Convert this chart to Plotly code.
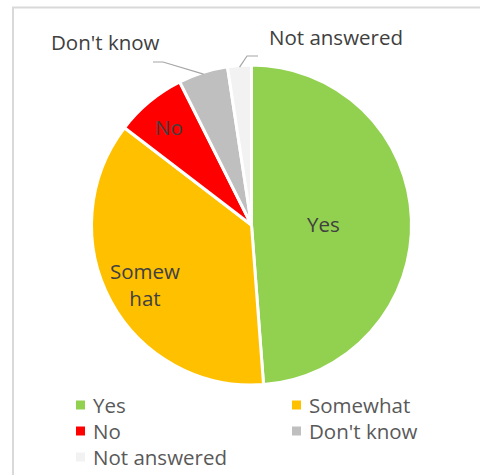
import math
import plotly.graph_objects as go

# Survey answers (share of responses, %)
categories = ["Yes", "Somewhat", "No", "Don't know", "Not answered"]
values = [48.8, 36.6, 7.2, 5.0, 2.4]
slice_labels = ["Yes", "Somew<br>hat", "No", "Don't know", "Not answered"]

colors = ["#92D050", "#FFC000", "#FF0000", "#BFBFBF", "#F2F2F2"]

W, H = 480, 475
FONT = "Open Sans"
FS = 20.5

# Pie placement in pixels
CX, CY, R = 251.5, 225.0, 160.0


def px(x):
    return x / W


def py(y):
    return 1 - y / H


fig = go.Figure(
    go.Pie(
        labels=categories,
        values=values,
        sort=False,
        direction="clockwise",
        rotation=0,
        marker=dict(colors=colors, line=dict(color="white", width=3)),
        textinfo="none",
        hoverinfo="label+percent",
        domain=dict(x=[px(CX - R), px(CX + R)], y=[py(CY + R), py(CY - R)]),
        showlegend=False,
    )
)

# Slice angles (degrees clockwise from 12 o'clock)
total = sum(values)
mids = []
acc = 0.0
for v in values:
    start = acc / total * 360
    acc += v
    end = acc / total * 360
    mids.append((start + end) / 2)


def polar(angle_deg, r):
    a = math.radians(angle_deg)
    return CX + r * math.sin(a), CY - r * math.cos(a)


annotations = []
shapes = []

# Labels drawn inside their slices (radial position as fraction of radius)
inside_r = {"Yes": 0.45, "Somewhat": 0.76, "No": 0.81}
for cat, lab, mid in zip(categories, slice_labels, mids):
    if cat in inside_r:
        x, y = polar(mid, inside_r[cat] * R)
        annotations.append(dict(
            x=px(x), y=py(y + 2), xref="paper", yref="paper",
            text=lab, showarrow=False,
            font=dict(family=FONT, size=FS, color="#404040"),
            xanchor="center", yanchor="middle",
        ))

# Labels outside small slices, with elbow leader lines
outside = {
    "Don't know": dict(text_xy=(105, 42), elbow=(163, 62), end=(153, 62)),
    "Not answered": dict(text_xy=(336, 37), elbow=(247, 56), end=(258, 56)),
}
for cat, lab, mid in zip(categories, slice_labels, mids):
    if cat in outside:
        o = outside[cat]
        ex, ey = polar(mid, R * 0.99)
        annotations.append(dict(
            x=px(o["text_xy"][0]), y=py(o["text_xy"][1]),
            xref="paper", yref="paper",
            text=lab, showarrow=False,
            font=dict(family=FONT, size=FS, color="#404040"),
            xanchor="center", yanchor="middle",
        ))
        path = "M {:.4f} {:.4f} L {:.4f} {:.4f} L {:.4f} {:.4f}".format(
            px(ex), py(ey), px(o["elbow"][0]), py(o["elbow"][1]),
            px(o["end"][0]), py(o["end"][1]))
        shapes.append(dict(type="path", xref="paper", yref="paper",
                           path=path, line=dict(color="#A6A6A6", width=1.2)))

# Two-column legend below the pie
LEG_X0, LEG_Y0, COL_W, ROW_H, SQ = 80.5, 405.0, 216.0, 26.0, 9.0
for i, (cat, col) in enumerate(zip(categories, colors)):
    mx = LEG_X0 + (i % 2) * COL_W
    my = LEG_Y0 + (i // 2) * ROW_H
    shapes.append(dict(type="rect", xref="paper", yref="paper",
                       x0=px(mx - SQ / 2), x1=px(mx + SQ / 2),
                       y0=py(my + SQ / 2), y1=py(my - SQ / 2),
                       fillcolor=col, line=dict(width=0)))
    annotations.append(dict(
        x=px(mx + 10), y=py(my), xref="paper", yref="paper",
        text=cat, showarrow=False,
        font=dict(family=FONT, size=FS, color="#595959"),
        xanchor="left", yanchor="middle",
    ))

# Chart area frame
shapes.append(dict(type="rect", xref="paper", yref="paper",
                   x0=px(13), y0=py(7.5), x1=px(W + 20), y1=py(H + 20),
                   line=dict(color="#D9D9D9", width=2), layer="below"))

fig.update_layout(
    width=W, height=H,
    margin=dict(l=0, r=0, t=0, b=0, autoexpand=False),
    paper_bgcolor="white", plot_bgcolor="white",
    font=dict(family=FONT, size=FS, color="#595959"),
    annotations=annotations,
    shapes=shapes,
    showlegend=False,
)

fig.write_html("out.html")
